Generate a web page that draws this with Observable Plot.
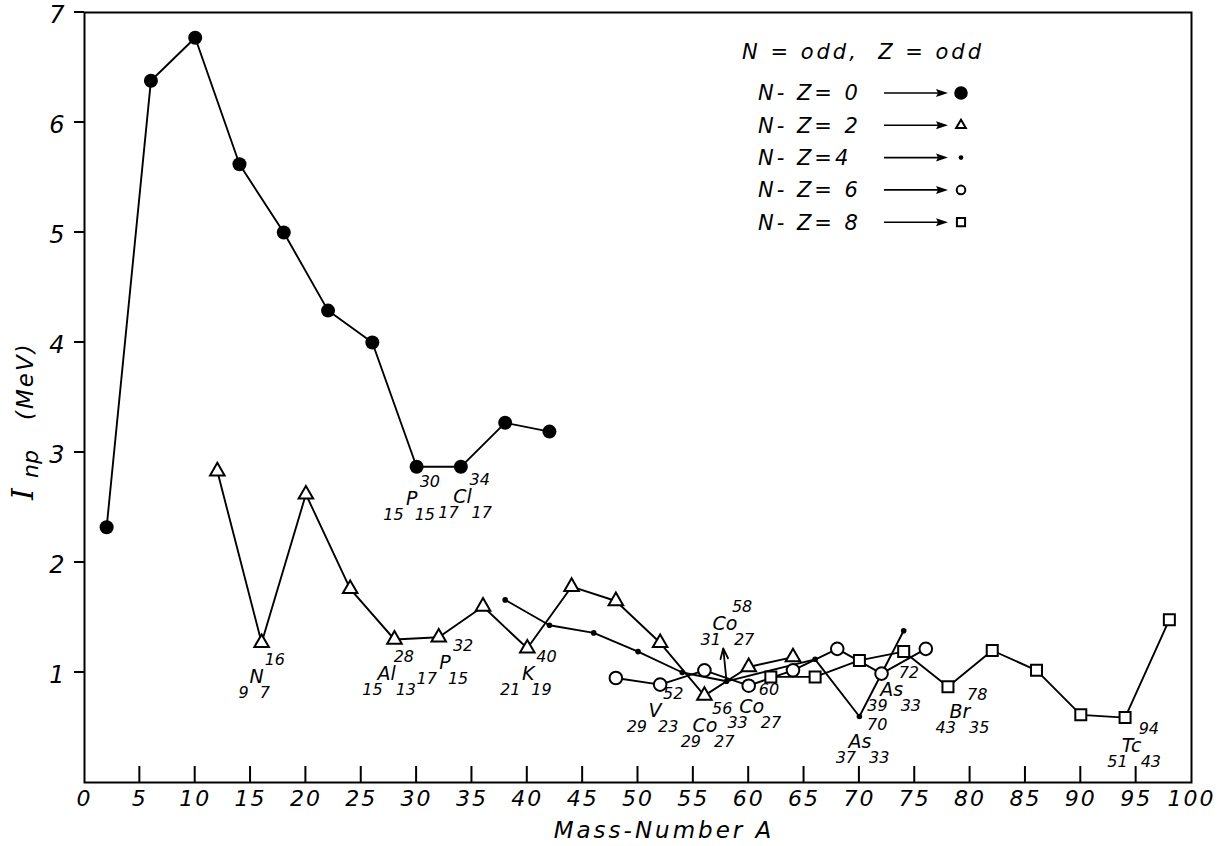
<!DOCTYPE html>
<html><head><meta charset="utf-8">
<script src="https://cdn.jsdelivr.net/npm/d3@7"></script>
<script src="https://cdn.jsdelivr.net/npm/@observablehq/plot@0.6"></script>
<style>
html,body{margin:0;padding:0;background:#fff;}
#chart svg{display:block;}
</style></head><body><div id="chart"></div>
<script>
// ---- data ----
const xTicks = [0,5,10,15,20,25,30,35,40,45,50,55,60,65,70,75,80,85,90,95,100];
const yTicks = [1,2,3,4,5,6,7];

// N-Z = 0 (filled circles)
const nz0A = [2,6,10,14,18,22,26,30,34,38,42];
const nz0I = [2.32,6.38,6.77,5.62,5.00,4.29,4.00,2.87,2.87,3.27,3.19];
// N-Z = 2 (triangles)
const nz2A = [12,16,20,24,28,32,36,40,44,48,52,56,60,64];
const nz2I = [2.83,1.27,2.62,1.76,1.30,1.32,1.60,1.22,1.78,1.65,1.27,0.79,1.05,1.14];
// N-Z = 4 (small dots)
const nz4A = [38,42,46,50,54,58,66,70,74];
const nz4I = [1.66,1.43,1.36,1.19,1.00,0.92,1.12,0.60,1.38];
// N-Z = 6 (open circles)
const nz6A = [48,52,56,60,64,68,72,76];
const nz6I = [0.95,0.89,1.02,0.88,1.02,1.215,0.99,1.215];
// N-Z = 8 (open squares)
const nz8A = [62,66,70,74,78,82,86,90,94,98];
const nz8I = [0.96,0.96,1.11,1.19,0.87,1.20,1.02,0.615,0.59,1.48];

// Co58 lower-limit arrow
const co58Arrow = [{A1: 58, v1: 0.92, A2: 57.7, v2: 1.22}];

// isotope labels: symbol, mass (sup), neutrons (left), Z (sub), anchor in data units
const labelSym  = ["N","P","Cl","Al","P","K","V","Co","Co","Co","As","As","Br","Tc"];
const labelMass = ["16","30","34","28","32","40","52","56","58","60","70","72","78","94"];
const labelN    = ["9","15","17","15","17","21","29","29","31","33","37","39","43","51"];
const labelZ    = ["7","15","17","13","15","19","23","27","27","27","33","33","35","43"];
const labelA    = [15.6,29.6,34.2,27.34,32.6,40.14,51.58,56.1,57.9,60.32,70.1,72.96,79.13,94.64];
const labelV    = [0.957,2.579,2.594,0.988,1.085,0.988,0.655,0.518,1.443,0.685,0.37,0.845,0.639,0.336];

const legendHeader = "N = odd,  Z = odd";
const legendRows = ["N- Z= 0","N- Z= 2","N- Z=4","N- Z= 6","N- Z= 8"];
const xLabel = "Mass-Number A";

// ---- build tables ----
const toRows = (A, I) => A.map((a, i) => ({A: a, I: I[i]}));
const nz0 = toRows(nz0A, nz0I), nz2 = toRows(nz2A, nz2I), nz4 = toRows(nz4A, nz4I),
      nz6 = toRows(nz6A, nz6I), nz8 = toRows(nz8A, nz8I);

const FONT = "DejaVu Sans";
const lineOpts = {x: "A", y: "I", stroke: "black", strokeWidth: 1.9};

const plot = Plot.plot({
  width: 1222, height: 846,
  marginLeft: 84, marginRight: 31, marginTop: 12, marginBottom: 64,
  x: {domain: [0, 100]},
  y: {domain: [0, 7]},
  style: {fontFamily: FONT, fontStyle: "italic", background: "white", color: "black"},
  marks: [
    Plot.frame({stroke: "black", strokeWidth: 2}),
    Plot.axisY({ticks: yTicks, tickSize: 0, tickPadding: 18, fontSize: 24, label: null, tickFormat: d => String(d), dy: 3}),
    Plot.axisX({ticks: xTicks, tickSize: 0, tickPadding: 8, fontSize: 22, label: null, tickFormat: d => String(d)}),
    Plot.line(nz0, lineOpts),
    Plot.line(nz2, lineOpts),
    Plot.line(nz4, lineOpts),
    Plot.line(nz6, lineOpts),
    Plot.line(nz8, lineOpts),
    Plot.arrow(co58Arrow, {x1: "A1", y1: "v1", x2: "A2", y2: "v2", stroke: "black", strokeWidth: 1.8, headLength: 11, headAngle: 40}),
    Plot.dot(nz0, {x: "A", y: "I", r: 7, fill: "black"}),
    Plot.dot(nz2, {x: "A", y: "I", symbol: "triangle", r: 5.4, fill: "white", stroke: "black", strokeWidth: 2}),
    Plot.dot(nz4, {x: "A", y: "I", r: 2.8, fill: "black"}),
    Plot.dot(nz6, {x: "A", y: "I", r: 6.3, fill: "white", stroke: "black", strokeWidth: 2}),
    Plot.dot(nz8, {x: "A", y: "I", symbol: "square", r: 6.2, fill: "white", stroke: "black", strokeWidth: 2})
  ]
});
document.getElementById("chart").appendChild(plot);

const svg = d3.select(plot);
svg.selectAll("[aria-label='x-axis tick label'] text, [aria-label='y-axis tick label'] text").style("letter-spacing", "2px");

const sx = plot.scale("x"), sy = plot.scale("y");

// tick marks (positions from the plot's scales): x inward, y outward
const tg = svg.append("g").attr("stroke", "black").attr("stroke-width", 2);
xTicks.slice(1, -1).forEach(t => {
  const x = sx.apply(t), y0 = sy.apply(0);
  tg.append("line").attr("x1", x).attr("x2", x).attr("y1", y0).attr("y2", y0 - 16);
});
yTicks.forEach(t => {
  const y = sy.apply(t), x0 = sx.apply(0);
  tg.append("line").attr("x1", x0).attr("x2", x0 - 10).attr("y1", y).attr("y2", y);
});

// isotope labels
const g = svg.append("g").attr("font-family", FONT).attr("font-style", "italic").attr("fill", "black");
labelSym.forEach((sym, i) => {
  const x = sx.apply(labelA[i]), y = sy.apply(labelV[i]);
  const two = sym.length > 1;
  g.append("text").attr("x", x).attr("y", y).attr("dy", "0.35em").attr("text-anchor", "middle").attr("font-size", 19).text(sym);
  g.append("text").attr("x", x - (two ? 4 : 8)).attr("y", y + 16).attr("dy", "0.35em").attr("text-anchor", "end").attr("font-size", 16).text(labelN[i]);
  g.append("text").attr("x", x + (two ? 7 : 8)).attr("y", y - 17).attr("dy", "0.35em").attr("text-anchor", "start").attr("font-size", 16).text(labelMass[i]);
  g.append("text").attr("x", x + (two ? 9 : 3)).attr("y", y + 16).attr("dy", "0.35em").attr("text-anchor", "start").attr("font-size", 16).text(labelZ[i]);
});

// axis titles
svg.append("text").attr("x", 664).attr("y", 830).attr("dy", "0.35em").attr("text-anchor", "middle")
  .attr("font-family", FONT).attr("font-style", "italic").attr("font-size", 23).style("letter-spacing", "3px").text(xLabel);

const yl = svg.append("text").attr("transform", "translate(33,500) rotate(-90)").attr("text-anchor", "start")
  .attr("font-family", FONT).attr("font-style", "italic").attr("fill", "black");
yl.append("tspan").attr("x", 0).attr("font-family", "DejaVu Serif").attr("font-size", 30).text("I");
yl.append("tspan").attr("x", 22).attr("dy", 5).attr("font-size", 22).text("np");
yl.append("tspan").attr("x", 80).attr("dy", -5).attr("font-size", 23).style("letter-spacing", "2px").text("(MeV)");

// legend
const lg = svg.append("g").attr("font-family", FONT).attr("font-style", "italic").attr("fill", "black").attr("text-anchor", "start");
lg.append("text").attr("x", 742).attr("y", 52).attr("dy", "0.35em").attr("font-size", 21).style("letter-spacing", "3px").text(legendHeader);
const legendSymbols = [
  {type: d3.symbolCircle, r: 6.8, fill: "black", stroke: "none"},
  {type: d3.symbolTriangle, r: 3.6, fill: "white", stroke: "black"},
  {type: d3.symbolCircle, r: 2.3, fill: "black", stroke: "none"},
  {type: d3.symbolCircle, r: 4.3, fill: "white", stroke: "black"},
  {type: d3.symbolSquare, r: 4.6, fill: "white", stroke: "black"}
];
legendRows.forEach((t, i) => {
  const y = 93 + i * 32.3;
  lg.append("text").attr("x", 758).attr("y", y).attr("dy", "0.35em").attr("font-size", 21).style("letter-spacing", "3px").text(t);
  lg.append("line").attr("x1", 884).attr("x2", 940).attr("y1", y).attr("y2", y).attr("stroke", "black").attr("stroke-width", 1.6);
  lg.append("path").attr("d", `M948,${y}L936,${y - 4}L938,${y}L936,${y + 4}Z`).attr("fill", "black");
  const s = legendSymbols[i];
  lg.append("path").attr("transform", `translate(961,${y})`)
    .attr("d", d3.symbol(s.type, Math.PI * s.r * s.r)())
    .attr("fill", s.fill).attr("stroke", s.stroke).attr("stroke-width", 2);
});
</script></body></html>
